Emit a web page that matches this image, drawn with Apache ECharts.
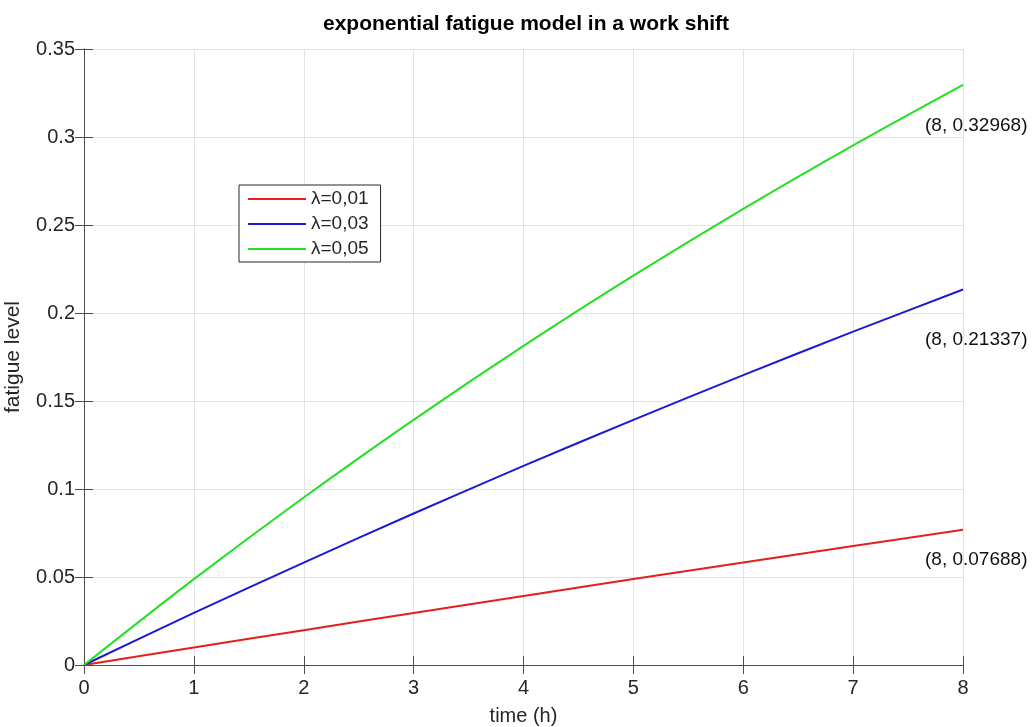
<!DOCTYPE html>
<html>
<head>
<meta charset="utf-8">
<script src="https://cdn.jsdelivr.net/npm/echarts@6/dist/echarts.min.js"></script>
<style>
  html, body { margin: 0; padding: 0; background: #fff; }
  #chart { width: 1034px; height: 727px; }
</style>
</head>
<body>
<div id="chart"></div>
<script>
// Fatigue level over a work shift for three decay rates
const hours = [0, 1, 2, 3, 4, 5, 6, 7, 8];
const seriesNames = ['λ=0,01', 'λ=0,03', 'λ=0,05'];
const fatigue001 = [0, 0.00995, 0.0198, 0.0296, 0.0392, 0.0488, 0.0582, 0.0676, 0.07688];
const fatigue003 = [0, 0.0296, 0.0582, 0.0861, 0.1131, 0.1393, 0.1647, 0.1894, 0.21337];
const fatigue005 = [0, 0.0488, 0.0952, 0.1393, 0.1813, 0.2212, 0.2592, 0.2953, 0.32968];
const yTicks = [0, 0.05, 0.1, 0.15, 0.2, 0.25, 0.3, 0.35];
const xTicks = [0, 1, 2, 3, 4, 5, 6, 7, 8];

const colors = ['#e3201b', '#1a1ad6', '#22e022'];
// vertical pixel offset of each end-of-curve data tip below its point
const tipDrop = [30, 50, 41];
const allSeries = [fatigue001, fatigue003, fatigue005];
const FONT = 'Liberation Sans, Arial, Helvetica, sans-serif';
const AXIS = '#4d4d4d';
const TXT = '#262626';

const chart = echarts.init(document.getElementById('chart'), null, { renderer: 'canvas' });

const pairs = vals => hours.map((h, i) => [h, vals[i]]);

const lineSeries = allSeries.map((vals, k) => ({
  name: seriesNames[k],
  type: 'line',
  data: pairs(vals),
  showSymbol: false,
  symbol: 'none',
  lineStyle: { color: colors[k], width: 2 },
  itemStyle: { color: colors[k] },
  smooth: 0.3,
  animation: false,
  z: 3
}));

// Data tips at the end of each curve
const tipSeries = allSeries.map((vals, k) => {
  const last = vals.length - 1;
  return {
    type: 'scatter',
    data: [[hours[last], vals[last]]],
    symbolSize: 2,
    itemStyle: { color: 'rgba(0,0,0,0)' },
    clip: false,
    silent: true,
    animation: false,
    label: {
      show: true,
      position: [-37, tipDrop[k] + 1],
      align: 'left',
      verticalAlign: 'middle',
      fontFamily: FONT,
      fontSize: 19,
      color: '#111',
      opacity: 1,
      textBorderWidth: 0,
      formatter: p => '(' + p.value[0] + ', ' + p.value[1] + ')'
    },
    z: 5
  };
});

const axisCommon = {
  type: 'value',
  axisLine: { show: true, lineStyle: { color: AXIS, width: 1 } },
  axisTick: { show: true, inside: true, length: 9, lineStyle: { color: AXIS } },
  splitLine: { show: false },
  axisLabel: { show: false }
};

chart.setOption({
  backgroundColor: '#ffffff',
  animation: false,
  title: {
    text: 'exponential fatigue model in a work shift',
    left: 521,
    textAlign: 'center',
    top: 9,
    textStyle: { fontFamily: FONT, fontSize: 21, fontWeight: 'bold', color: '#000' }
  },
  grid: { left: 84, right: 71, top: 49, bottom: 62, containLabel: false, outerBoundsMode: 'none' },
  legend: {
    data: seriesNames,
    orient: 'vertical',
    left: 239,
    top: 185,
    backgroundColor: '#fff',
    borderColor: '#262626',
    borderWidth: 1,
    borderRadius: 0,
    padding: [4, 12, 3, 9],
    itemWidth: 58,
    itemHeight: 2,
    itemGap: 5,
    icon: 'rect',
    textStyle: { fontFamily: FONT, fontSize: 19, color: TXT, lineHeight: 20 }
  },
  xAxis: [
    Object.assign({}, axisCommon, {
      position: 'bottom',
      min: xTicks[0], max: xTicks[xTicks.length - 1], interval: 1,
      name: 'time (h)',
      nameLocation: 'middle',
      nameGap: 41,
      nameTextStyle: { fontFamily: FONT, fontSize: 20, color: TXT },
      axisLabel: { show: true, margin: 13, fontFamily: FONT, fontSize: 20, color: TXT },
      splitLine: { show: true, lineStyle: { color: '#e3e3e3', width: 1 } }
    }),
    Object.assign({}, axisCommon, {
      position: 'top',
      min: xTicks[0], max: xTicks[xTicks.length - 1], interval: 1
    })
  ],
  yAxis: [
    Object.assign({}, axisCommon, {
      position: 'left',
      min: yTicks[0], max: yTicks[yTicks.length - 1], interval: 0.05,
      name: 'fatigue level',
      nameLocation: 'middle',
      nameGap: 60,
      nameTextStyle: { fontFamily: FONT, fontSize: 21, color: TXT },
      axisLabel: { show: true, margin: 9, fontFamily: FONT, fontSize: 20, color: TXT },
      splitLine: { show: true, lineStyle: { color: '#e3e3e3', width: 1 } }
    }),
    Object.assign({}, axisCommon, {
      position: 'right',
      min: yTicks[0], max: yTicks[yTicks.length - 1], interval: 0.05
    })
  ],
  series: lineSeries.concat(tipSeries)
});
</script>
</body>
</html>
